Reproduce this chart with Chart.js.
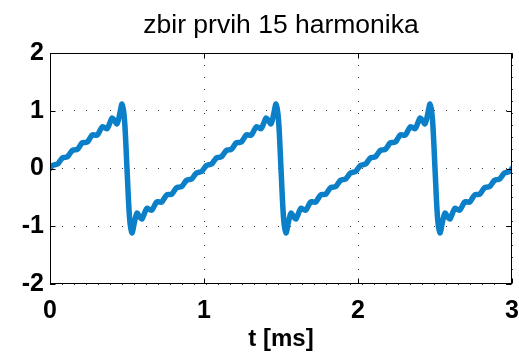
<!DOCTYPE html>
<html>
<head>
<meta charset="utf-8">
<title>zbir prvih 15 harmonika</title>
<script src="https://cdn.jsdelivr.net/npm/chart.js@4.4.0/dist/chart.umd.min.js"></script>
<style>
  html, body { margin: 0; padding: 0; background: #fff; }
  canvas { display: block; }
</style>
</head>
<body>
<canvas id="grafik" width="519" height="354"></canvas>
<script>
// sawtooth, sum of the first 15 harmonics, one sample every 1/62 ms
var korak = 1 / 62;
var zbir = [
  0, 0.053, 0.065, 0.076, 0.129, 0.183, 0.193, 0.204, 0.258, 0.313, 0.322, 0.331, 0.388, 0.445, 0.451, 0.456,
  0.517, 0.580, 0.579, 0.577, 0.647, 0.720, 0.707, 0.690, 0.779, 0.875, 0.829, 0.774, 0.927, 1.115, 0.840,
  0, -0.840, -1.115, -0.927, -0.774, -0.829, -0.875, -0.779, -0.690, -0.707, -0.720, -0.647, -0.577, -0.579, -0.580,
  -0.517, -0.456, -0.451, -0.445, -0.388, -0.331, -0.322, -0.313, -0.258, -0.204, -0.193, -0.183, -0.129, -0.076, -0.065, -0.053,

  0, 0.053, 0.065, 0.076, 0.129, 0.183, 0.193, 0.204, 0.258, 0.313, 0.322, 0.331, 0.388, 0.445, 0.451, 0.456,
  0.517, 0.580, 0.579, 0.577, 0.647, 0.720, 0.707, 0.690, 0.779, 0.875, 0.829, 0.774, 0.927, 1.115, 0.840,
  0, -0.840, -1.115, -0.927, -0.774, -0.829, -0.875, -0.779, -0.690, -0.707, -0.720, -0.647, -0.577, -0.579, -0.580,
  -0.517, -0.456, -0.451, -0.445, -0.388, -0.331, -0.322, -0.313, -0.258, -0.204, -0.193, -0.183, -0.129, -0.076, -0.065, -0.053,

  0, 0.053, 0.065, 0.076, 0.129, 0.183, 0.193, 0.204, 0.258, 0.313, 0.322, 0.331, 0.388, 0.445, 0.451, 0.456,
  0.517, 0.580, 0.579, 0.577, 0.647, 0.720, 0.707, 0.690, 0.779, 0.875, 0.829, 0.774, 0.927, 1.115, 0.840,
  0, -0.840, -1.115, -0.927, -0.774, -0.829, -0.875, -0.779, -0.690, -0.707, -0.720, -0.647, -0.577, -0.579, -0.580,
  -0.517, -0.456, -0.451, -0.445, -0.388, -0.331, -0.322, -0.313, -0.258, -0.204, -0.193, -0.183, -0.129, -0.076, -0.065, -0.053,
  0
];
var xTicks = [0, 1, 2, 3];
var yTicks = [-2, -1, 0, 1, 2];

var tacke = zbir.map(function(v, i) {
  return { x: i * korak, y: v };
});

var font = "Arial, 'Liberation Sans', Helvetica, sans-serif";

// axes box with short inward ticks on all four sides
var okvir = {
  id: 'okvir',
  afterDraw: function(chart) {
    var a = chart.chartArea, ctx = chart.ctx;
    var sx = chart.scales.x, sy = chart.scales.y;
    var L = Math.round(a.left) + 0.5, R = Math.round(a.right) - 0.5;
    var T = Math.round(a.top) + 0.5, B = Math.round(a.bottom) - 0.5;
    ctx.save();
    ctx.strokeStyle = '#000';
    ctx.lineWidth = 1;
    ctx.beginPath();
    xTicks.forEach(function(v) {
      var px = Math.round(sx.getPixelForValue(v)) + 0.5;
      ctx.moveTo(px, B); ctx.lineTo(px, B - 5);
      ctx.moveTo(px, T); ctx.lineTo(px, T + 5);
    });
    yTicks.forEach(function(v) {
      var py = Math.round(sy.getPixelForValue(v)) + 0.5;
      ctx.moveTo(L, py); ctx.lineTo(L + 5, py);
      ctx.moveTo(R, py); ctx.lineTo(R - 5, py);
    });
    ctx.stroke();
    ctx.strokeRect(L, T, R - L, B - T);
    ctx.restore();
  }
};

new Chart(document.getElementById('grafik').getContext('2d'), {
  type: 'line',
  data: {
    datasets: [{
      data: tacke,
      borderColor: '#0b7fc7',
      borderWidth: 5.5,
      borderCapStyle: 'round',
      borderJoinStyle: 'round',
      pointRadius: 0,
      tension: 0.3,
      clip: 0
    }]
  },
  options: {
    responsive: false,
    animation: false,
    devicePixelRatio: 1,
    layout: { padding: { left: 0, right: 7, top: 0, bottom: 0 } },
    plugins: {
      legend: { display: false },
      tooltip: { enabled: false },
      title: {
        display: true,
        fullSize: false,
        text: 'zbir prvih 15 harmonika',
        color: '#000',
        font: { family: font, size: 26.5, weight: 'normal' },
        padding: { top: 10, bottom: 11.2 }
      }
    },
    scales: {
      x: {
        type: 'linear',
        min: 0,
        max: 3,
        afterBuildTicks: function(s) { s.ticks = xTicks.map(function(v) { return { value: v }; }); },
        afterFit: function(s) { s.height = 70; s.paddingLeft = 0; s.paddingRight = 0; },
        grid: { color: 'rgba(0,0,0,0.75)', lineWidth: 1, drawTicks: false },
        border: { display: false, dash: [1, 11] },
        ticks: {
          color: '#000',
          padding: 12,
          maxRotation: 0,
          font: { family: font, size: 25, weight: 'bold' }
        },
        title: {
          display: true,
          text: 't [ms]',
          color: '#000',
          padding: { top: 0, bottom: 0 },
          font: { family: font, size: 24, weight: 'bold' }
        }
      },
      y: {
        min: -2,
        max: 2,
        afterBuildTicks: function(s) { s.ticks = yTicks.map(function(v) { return { value: v }; }); },
        afterFit: function(s) { s.width = 50; s.paddingTop = 0; s.paddingBottom = 0; },
        grid: { color: 'rgba(0,0,0,0.75)', lineWidth: 1, drawTicks: false },
        border: { display: false, dash: [1, 11] },
        ticks: {
          color: '#000',
          padding: 6,
          font: { family: font, size: 25, weight: 'bold' }
        }
      }
    }
  },
  plugins: [okvir]
});
</script>
</body>
</html>
